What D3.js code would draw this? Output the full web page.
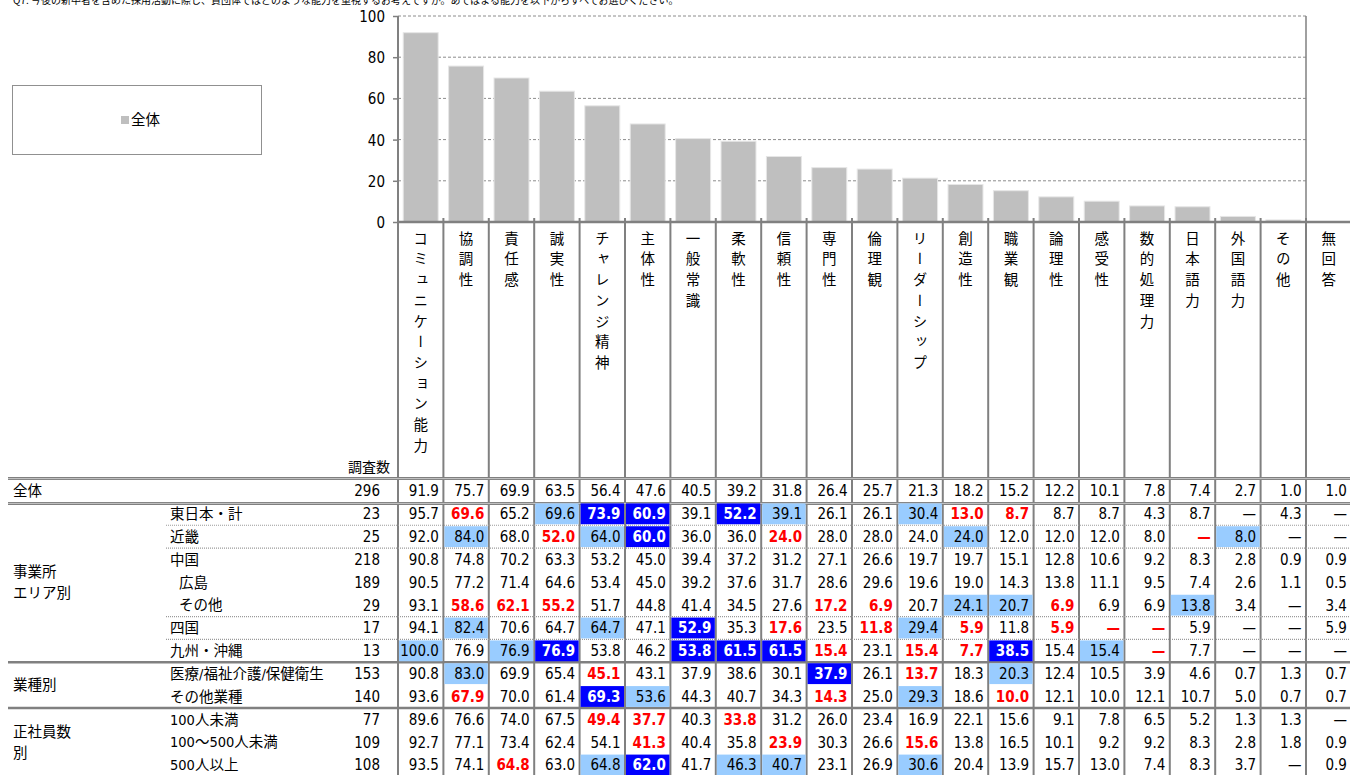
<!DOCTYPE html>
<html><head><meta charset="utf-8">
<script src="https://cdn.jsdelivr.net/npm/d3@7"></script>
<style>
body{margin:0;background:#fff;overflow:hidden;}
svg{display:block;font-family:"DejaVu Sans Condensed","DejaVu Sans","Noto Sans CJK JP",sans-serif;}
</style></head><body>
<svg id="c" width="1350" height="775"></svg>
<script>
// ---------------- data ----------------
const title = "Q7. 今後の新卒者を含めた採用活動に際し、貴団体ではどのような能力を重視するお考えですか。あてはまる能力を以下からすべてお選びください。";
const categories = ["コミュニケーション能力","協調性","責任感","誠実性","チャレンジ精神","主体性","一般常識","柔軟性","信頼性","専門性","倫理観","リーダーシップ","創造性","職業観","論理性","感受性","数的処理力","日本語力","外国語力","その他","無回答"];
const overall = [91.9,75.7,69.9,63.5,56.4,47.6,40.5,39.2,31.8,26.4,25.7,21.3,18.2,15.2,12.2,10.1,7.8,7.4,2.7,1.0,1.0];
const barCategories = categories.filter(c => c !== "無回答");
const yTicks = [0,20,40,60,80,100];
const legendLabel = "全体";
const nHeader = "調査数";
const rowLabels = ["全体","東日本・計","近畿","中国"," 広島"," その他","四国","九州・沖縄","医療/福祉介護/保健衛生","その他業種","100人未満","100～500人未満","500人以上"];
const rowN = [296,23,25,218,189,29,17,13,153,140,77,109,108];
const cellValues = [
  [91.9,75.7,69.9,63.5,56.4,47.6,40.5,39.2,31.8,26.4,25.7,21.3,18.2,15.2,12.2,10.1,7.8,7.4,2.7,1.0,1.0],
  [95.7,69.6,65.2,69.6,73.9,60.9,39.1,52.2,39.1,26.1,26.1,30.4,13.0,8.7,8.7,8.7,4.3,8.7,null,4.3,null],
  [92.0,84.0,68.0,52.0,64.0,60.0,36.0,36.0,24.0,28.0,28.0,24.0,24.0,12.0,12.0,12.0,8.0,null,8.0,null,null],
  [90.8,74.8,70.2,63.3,53.2,45.0,39.4,37.2,31.2,27.1,26.6,19.7,19.7,15.1,12.8,10.6,9.2,8.3,2.8,0.9,0.9],
  [90.5,77.2,71.4,64.6,53.4,45.0,39.2,37.6,31.7,28.6,29.6,19.6,19.0,14.3,13.8,11.1,9.5,7.4,2.6,1.1,0.5],
  [93.1,58.6,62.1,55.2,51.7,44.8,41.4,34.5,27.6,17.2,6.9,20.7,24.1,20.7,6.9,6.9,6.9,13.8,3.4,null,3.4],
  [94.1,82.4,70.6,64.7,64.7,47.1,52.9,35.3,17.6,23.5,11.8,29.4,5.9,11.8,5.9,null,null,5.9,null,null,5.9],
  [100.0,76.9,76.9,76.9,53.8,46.2,53.8,61.5,61.5,15.4,23.1,15.4,7.7,38.5,15.4,15.4,null,7.7,null,null,null],
  [90.8,83.0,69.9,65.4,45.1,43.1,37.9,38.6,30.1,37.9,26.1,13.7,18.3,20.3,12.4,10.5,3.9,4.6,0.7,1.3,0.7],
  [93.6,67.9,70.0,61.4,69.3,53.6,44.3,40.7,34.3,14.3,25.0,29.3,18.6,10.0,12.1,10.0,12.1,10.7,5.0,0.7,0.7],
  [89.6,76.6,74.0,67.5,49.4,37.7,40.3,33.8,31.2,26.0,23.4,16.9,22.1,15.6,9.1,7.8,6.5,5.2,1.3,1.3,null],
  [92.7,77.1,73.4,62.4,54.1,41.3,40.4,35.8,23.9,30.3,26.6,15.6,13.8,16.5,10.1,9.2,9.2,8.3,2.8,1.8,0.9],
  [93.5,74.1,64.8,63.0,64.8,62.0,41.7,46.3,40.7,23.1,26.9,30.6,20.4,13.9,15.7,13.0,7.4,8.3,3.7,null,0.9]
];
// significance vs. 全体: "0" none, "+" higher, "++" much higher, "-" lower
const cellFlags = [
  "0 0 0 0 0 0 0 0 0 0 0 0 0 0 0 0 0 0 0 0 0",
  "0 - 0 + ++ ++ 0 ++ + 0 0 + - - 0 0 0 0 0 0 0",
  "0 + 0 - + ++ 0 0 - 0 0 0 + 0 0 0 0 - + 0 0",
  "0 0 0 0 0 0 0 0 0 0 0 0 0 0 0 0 0 0 0 0 0",
  "0 0 0 0 0 0 0 0 0 0 0 0 0 0 0 0 0 0 0 0 0",
  "0 - - - 0 0 0 0 0 - - 0 + + - 0 0 + 0 0 0",
  "0 + 0 0 + 0 ++ 0 - 0 - + - 0 - - - 0 0 0 0",
  "+ 0 + ++ 0 0 ++ ++ ++ - 0 - - ++ 0 + - 0 0 0 0",
  "0 + 0 0 - 0 0 0 0 ++ 0 - 0 + 0 0 0 0 0 0 0",
  "0 - 0 0 ++ + 0 0 0 - 0 + 0 - 0 0 0 0 0 0 0",
  "0 0 0 0 - - 0 - 0 0 0 0 0 0 0 0 0 0 0 0 0",
  "0 0 0 0 0 - 0 0 - 0 0 - 0 0 0 0 0 0 0 0 0",
  "0 0 - 0 + ++ 0 + + 0 0 + 0 0 0 0 0 0 0 0 0"
];
const groupLabels = [["事業所","エリア別"],["業種別"],["正社員数","別"]];
const groupRows = [[1,7],[8,9],[10,12]];

// ---------------- layout ----------------
const W = 1350, H = 775;
const svg = d3.select("#c");
const gridColor = "#808080";
const colLeft = 398, colStep = 45.4;
const col = d3.scaleBand().domain(categories).range([colLeft, colLeft + colStep * categories.length]);
const barX = d3.scaleBand().domain(categories).range(col.range()).paddingInner(0.23).paddingOuter(0.115);
const y = d3.scaleLinear().domain([0, 100]).range([222, 16]);
const plotRight = col(categories[categories.length - 1]);
const rowY = d3.scalePoint().domain(d3.range(rowLabels.length)).range([491, 765]);
const rowH = rowY.step();
const fontNum = 15;

// title (cut at the top edge, as in the source)
svg.append("text").attr("x", 13).attr("y", 3.5).attr("font-size", 10).attr("fill", "#000")
  .attr("font-family", "Noto Sans CJK JP").text(title);

// legend
svg.append("rect").attr("x", 12.5).attr("y", 85.5).attr("width", 249).attr("height", 69)
  .attr("fill", "#fff").attr("stroke", "#909090").attr("stroke-width", 1);
svg.append("rect").attr("x", 121).attr("y", 116).attr("width", 8).attr("height", 8).attr("fill", "#BFBFBF");
svg.append("text").attr("x", 131).attr("y", 120).attr("dy", "0.36em").attr("font-size", 14.5)
  .attr("font-family", "Noto Sans CJK JP").text(legendLabel);

// gridlines
svg.append("g").selectAll("line").data(yTicks.filter(t => t > 0)).join("line")
  .attr("x1", colLeft).attr("x2", plotRight).attr("y1", d => y(d)).attr("y2", d => y(d))
  .attr("stroke", "#8c8c8c").attr("stroke-width", 1).attr("stroke-dasharray", "3,2");

// bars
svg.append("g").selectAll("rect").data(barCategories).join("rect")
  .attr("x", d => barX(d)).attr("width", barX.bandwidth())
  .attr("y", d => y(overall[categories.indexOf(d)]))
  .attr("height", d => y(0) - y(overall[categories.indexOf(d)]))
  .attr("fill", "#BFBFBF").attr("stroke", "#e6e6e6").attr("stroke-width", 1);

// plot frame right
svg.append("line").attr("x1", plotRight).attr("x2", plotRight).attr("y1", y(100)).attr("y2", y(0))
  .attr("stroke", gridColor).attr("stroke-width", 1.5);

// y axis
const yAxis = svg.append("g").attr("transform", `translate(${colLeft},0)`)
  .call(d3.axisLeft(y).tickValues(yTicks).tickSize(5).tickPadding(8).tickFormat(d3.format("d")));
yAxis.select(".domain").remove();
yAxis.selectAll(".tick line").attr("stroke", gridColor).attr("stroke-width", 1.5);
yAxis.selectAll(".tick text").attr("font-size", 15).attr("fill", "#000")
  .attr("font-family", "DejaVu Sans Condensed, DejaVu Sans").attr("dy", "0.36em");
svg.append("line").attr("x1", colLeft).attr("x2", colLeft).attr("y1", y(100)).attr("y2", H)
  .attr("stroke", gridColor).attr("stroke-width", 2);

// column separators (table)
svg.append("g").selectAll("line").data(categories).join("line")
  .attr("x1", d => col(d) + col.step()).attr("x2", d => col(d) + col.step())
  .attr("y1", y(0) - 4).attr("y2", H)
  .attr("stroke", gridColor).attr("stroke-width", 2);

// x baseline
svg.append("line").attr("x1", colLeft).attr("x2", W).attr("y1", y(0)).attr("y2", y(0))
  .attr("stroke", gridColor).attr("stroke-width", 2.5);

// header vertical labels
svg.append("g").selectAll("text").data(categories).join("text")
  .attr("x", d => col(d) + col.bandwidth() / 2)
  .attr("y", 231)
  .attr("font-size", 14.5)
  .attr("font-family", "Noto Sans CJK JP")
  .style("writing-mode", "vertical-rl")
  .style("letter-spacing", "6.2px")
  .attr("fill", "#000")
  .text(d => d);

svg.append("text").attr("x", 390).attr("y", 467).attr("dy", "0.36em").attr("text-anchor", "end")
  .attr("font-size", 14).attr("font-family", "Noto Sans CJK JP").text(nHeader);

// horizontal rules
function hline(yy, x1, style) {
  const l = svg.append("line").attr("x1", x1).attr("x2", W).attr("y1", yy).attr("y2", yy);
  if (style === "double") {
    l.attr("stroke", gridColor).attr("stroke-width", 3);
    svg.append("line").attr("x1", x1).attr("x2", W).attr("y1", yy).attr("y2", yy)
      .attr("stroke", "#d8d8d8").attr("stroke-width", 0.8);
  } else if (style === "thick") {
    l.attr("stroke", gridColor).attr("stroke-width", 2.5);
  } else {
    l.attr("stroke", "#9a9a9a").attr("stroke-width", 1.2).attr("stroke-dasharray", "1,1");
  }
}
const bnd = i => rowY(i) + rowH / 2;
hline(rowY(0) - rowH / 2 - 1, 8, "double");
hline(bnd(0) + 1, 8, "double");
[1, 2, 5, 6].forEach(i => hline(bnd(i), 166, "dot"));
hline(bnd(7), 8, "thick");
hline(bnd(9), 8, "thick");

// cells
const flagFill = {"+": "#99CCFF", "++": "#0000FF"};
const cells = [];
cellValues.forEach((row, r) => {
  const flags = cellFlags[r].split(" ");
  row.forEach((v, c) => cells.push({r, c, v, f: flags[c]}));
});
const cellG = svg.append("g");
cellG.selectAll("rect").data(cells.filter(d => flagFill[d.f])).join("rect")
  .attr("x", d => col(categories[d.c]) + 1).attr("width", col.bandwidth() - 2)
  .attr("y", d => rowY(d.r) - rowH / 2 + 1).attr("height", rowH - 2)
  .attr("fill", d => flagFill[d.f]);
cellG.selectAll("text").data(cells).join("text")
  .attr("x", d => col(categories[d.c]) + col.bandwidth() - 4.5)
  .attr("y", d => rowY(d.r)).attr("dy", "0.36em")
  .attr("text-anchor", "end")
  .attr("font-size", fontNum)
  .attr("font-weight", d => (d.f === "-" || d.f === "++") ? "bold" : "normal")
  .attr("fill", d => d.f === "-" ? "#FF0000" : d.f === "++" ? "#FFFFFF" : "#000")
  .text(d => d.v === null ? "—" : d3.format(".1f")(d.v));

// row labels and n
svg.append("g").selectAll("text").data(rowLabels).join("text")
  .attr("x", (d, i) => i === 0 ? 13 : (d.startsWith(" ") ? 179 : 170))
  .attr("y", (d, i) => rowY(i)).attr("dy", "0.36em")
  .attr("font-size", 14.5).text(d => d.trim());
svg.append("g").selectAll("text").data(rowN).join("text")
  .attr("x", 380).attr("y", (d, i) => rowY(i)).attr("dy", "0.36em").attr("text-anchor", "end")
  .attr("font-size", fontNum).text(d => d);

// group labels
groupLabels.forEach((lines, g) => {
  const mid = (rowY(groupRows[g][0]) + rowY(groupRows[g][1])) / 2;
  const lh = 21.5;
  lines.forEach((t, k) => {
    svg.append("text").attr("x", 13).attr("y", mid + (k - (lines.length - 1) / 2) * lh).attr("dy", "0.36em")
      .attr("font-size", 14.5).text(t);
  });
});
</script>
</body></html>
